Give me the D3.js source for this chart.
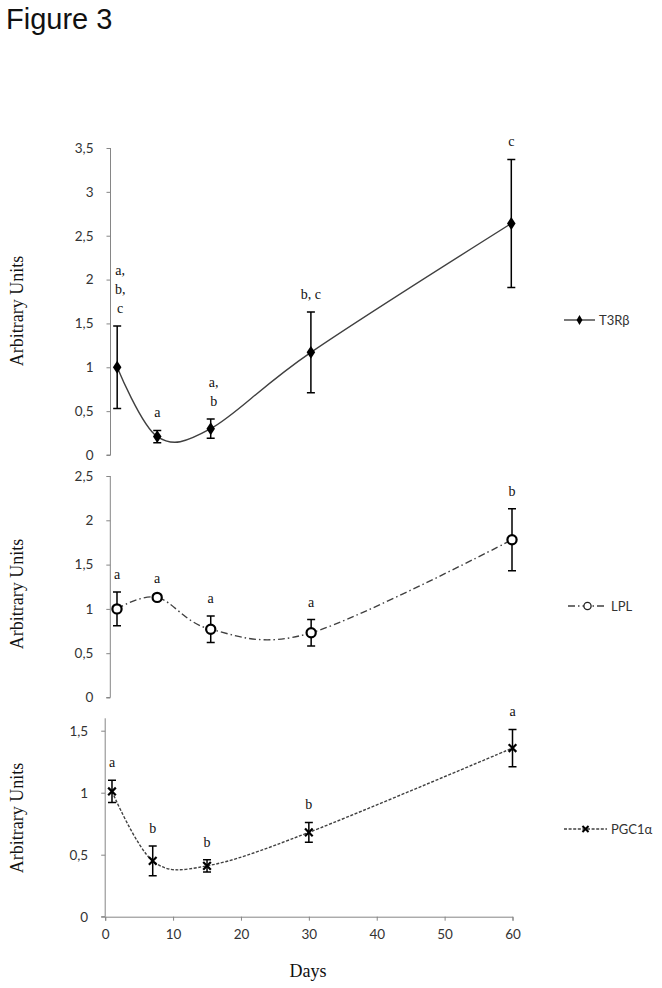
<!DOCTYPE html>
<html><head><meta charset="utf-8">
<script src="https://cdn.jsdelivr.net/npm/d3@7"></script>
<style>body{margin:0;background:#fff}svg{display:block}</style>
</head><body>
<svg id="c" width="662" height="988"></svg>
<script>
// ---- data ----
const days = [1, 7, 15, 30, 60];
const t3rb = [1.00, 0.21, 0.30, 1.17, 2.64];
const t3rbErr = [0.47, 0.07, 0.11, 0.46, 0.73];
const t3rbLetters = [["a,", "b,", "c"], ["a"], ["a,", "b"], ["b, c"], ["c"]];
const lpl = [1.00, 1.13, 0.77, 0.73, 1.78];
const lplErr = [0.19, 0.02, 0.15, 0.15, 0.35];
const lplLetters = [["a"], ["a"], ["a"], ["a"], ["b"]];
const pgc = [1.01, 0.45, 0.41, 0.68, 1.36];
const pgcErr = [0.09, 0.12, 0.05, 0.08, 0.15];
const pgcLetters = [["a"], ["b"], ["b"], ["b"], ["a"]];
const xTicks = [0, 10, 20, 30, 40, 50, 60];
const yTicks1 = [0, 0.5, 1, 1.5, 2, 2.5, 3, 3.5];
const yTicks2 = [0, 0.5, 1, 1.5, 2, 2.5];
const yTicks3 = [0, 0.5, 1, 1.5];

const svg = d3.select("#c");
const fmt = d => String(d).replace(".", ",");
const axisCol = "#868686";
const lineCol = "#404040";

svg.append("text").attr("x", 6).attr("y", 29)
  .attr("font-family", "Liberation Sans, Arial, sans-serif").attr("font-size", 29)
  .attr("fill", "#111").text("Figure 3");

const panels = [
  {vals: t3rb, err: t3rbErr, letters: t3rbLetters, yMax: 3.5, yTicks: yTicks1,
   xr: [110.5, 511.3], yr: [455, 148], name: "T3Rβ", marker: "diamond", dash: null,
   ylab: 311, leg: {x1: 564, x2: 595, y: 320}},
  {vals: lpl, err: lplErr, letters: lplLetters, yMax: 2.5, yTicks: yTicks2,
   xr: [110.3, 512], yr: [697.5, 476], name: "LPL", marker: "circle", dash: "7,3,1.5,3",
   ylab: 594, leg: {x1: 568, x2: 607, y: 606}},
  {vals: pgc, err: pgcErr, letters: pgcLetters, yMax: 1.6, yTicks: yTicks3,
   xr: [105.2, 512.5], yr: [916.7, 718.3], name: "PGC1α", marker: "cross", dash: "3,1.6",
   ylab: 818, leg: {x1: 564, x2: 607, y: 829}, xAxis: true}
];

function drawMarker(g, type, x, y) {
  if (type === "diamond") {
    g.append("path").attr("d", d3.symbol().type(d3.symbolDiamond).size(48)())
      .attr("transform", `translate(${x},${y}) scale(1.15,1)`).attr("fill", "#000");
  } else if (type === "circle") {
    g.append("circle").attr("cx", x).attr("cy", y).attr("r", 4.6)
      .attr("fill", "#fff").attr("stroke", "#000").attr("stroke-width", 2.2);
  } else {
    g.append("path").attr("d", d3.symbol().type(d3.symbolX).size(40)())
      .attr("transform", `translate(${x},${y})`).attr("fill", "none")
      .attr("stroke", "#000").attr("stroke-width", 2.2);
  }
}

panels.forEach(p => {
  const x = d3.scaleLinear().domain([0, 60]).range(p.xr);
  const y = d3.scaleLinear().domain([0, p.yMax]).range(p.yr);
  const g = svg.append("g");

  // y axis
  const ya = g.append("g").attr("transform", `translate(${p.xr[0]},0)`)
    .call(d3.axisLeft(y).tickValues(p.yTicks).tickFormat(fmt).tickSize(4).tickPadding(13));
  ya.select(".domain").attr("stroke", axisCol).attr("d", `M-4,${p.yr[0]}H0V${p.yr[1]}`);
  ya.selectAll(".tick line").attr("stroke", axisCol);
  ya.selectAll(".tick text").attr("font-family", "Lato, Carlito, sans-serif")
    .attr("font-size", 13.5).attr("fill", "#333");

  if (p.xAxis) {
    const xa = g.append("g").attr("transform", `translate(0,${p.yr[0]})`)
      .call(d3.axisBottom(x).tickValues(xTicks).tickSize(4).tickPadding(9));
    xa.select(".domain").attr("stroke", axisCol);
    xa.selectAll(".tick line").attr("stroke", axisCol);
    xa.selectAll(".tick text").attr("font-family", "Lato, Carlito, sans-serif")
      .attr("font-size", 13.5).attr("fill", "#333");
    svg.append("text").attr("x", 308).attr("y", 977).attr("text-anchor", "middle")
      .attr("font-family", "Liberation Serif, Times New Roman, serif").attr("font-size", 18)
      .attr("fill", "#111").text("Days");
  }

  // y label
  svg.append("text").attr("transform", `translate(23,${p.ylab}) rotate(-90)`)
    .attr("text-anchor", "middle").attr("font-family", "Liberation Serif, Times New Roman, serif")
    .attr("font-size", 18).attr("fill", "#111").text("Arbitrary Units");

  const pts = days.map((d, i) => [x(d), y(p.vals[i])]);
  // line
  const path = g.append("path").attr("d", d3.line().curve(d3.curveCardinal.tension(0))(pts))
    .attr("fill", "none").attr("stroke", lineCol).attr("stroke-width", 1.4);
  if (p.dash) path.attr("stroke-dasharray", p.dash);

  // error bars
  days.forEach((d, i) => {
    const cx = x(d), top = y(p.vals[i] + p.err[i]), bot = y(p.vals[i] - p.err[i]);
    g.append("path").attr("d", `M${cx},${top}V${bot}M${cx - 4},${top}H${cx + 4}M${cx - 4},${bot}H${cx + 4}`)
      .attr("stroke", "#000").attr("stroke-width", 1.5).attr("fill", "none");
  });
  // markers
  pts.forEach(pt => drawMarker(g, p.marker, pt[0], pt[1]));

  // letters
  days.forEach((d, i) => {
    const lines = p.letters[i];
    const base = y(p.vals[i] + p.err[i]) - 13;
    lines.forEach((t, j) => {
      g.append("text").attr("x", x(d) + (lines.length > 1 && t.length < 3 ? 3 : 0))
        .attr("y", base - (lines.length - 1 - j) * 19)
        .attr("text-anchor", "middle").attr("font-family", "Liberation Serif, Times New Roman, serif")
        .attr("font-size", 14).attr("fill", "#111").text(t);
    });
  });

  // legend
  const L = p.leg;
  const lp = g.append("path").attr("d", `M${L.x1},${L.y}H${L.x2}`).attr("stroke", lineCol)
    .attr("stroke-width", 1.4);
  if (p.dash) lp.attr("stroke-dasharray", p.dash);
  const mx = (L.x1 + L.x2) / 2;
  if (p.marker === "diamond") {
    g.append("path").attr("d", d3.symbol().type(d3.symbolDiamond).size(30)())
      .attr("transform", `translate(${mx},${L.y})`).attr("fill", "#000");
  } else if (p.marker === "circle") {
    g.append("circle").attr("cx", mx).attr("cy", L.y).attr("r", 3.6).attr("fill", "#fff")
      .attr("stroke", "#222").attr("stroke-width", 1.3);
  } else {
    g.append("path").attr("d", d3.symbol().type(d3.symbolX).size(26)())
      .attr("transform", `translate(${mx},${L.y})`).attr("stroke", "#000").attr("stroke-width", 2);
  }
  g.append("text").attr("x", L.x2 + 4).attr("y", L.y + 4.5)
    .attr("font-family", "Lato, Carlito, sans-serif").attr("font-size", 13).attr("fill", "#333")
    .text(p.name);
});
</script>
</body></html>
